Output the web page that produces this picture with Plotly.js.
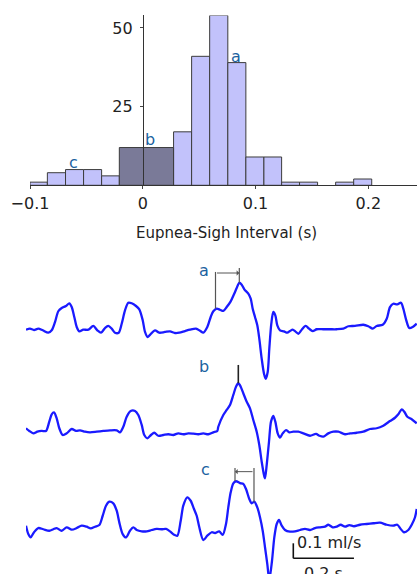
<!DOCTYPE html>
<html>
<head>
<meta charset="utf-8">
<script src="https://cdn.plot.ly/plotly-3.0.1.min.js"></script>
<style>html,body{margin:0;padding:0;background:#fff;}#chart{width:417px;height:574px;}</style>
</head>
<body>
<div id="chart"></div>
<script>
// ---------- DATA ----------
// Histogram of eupnea-sigh interval (s)
const binEdges = [-0.1, -0.0846, -0.0685, -0.0525, -0.0365, -0.0208, 0.0273, 0.0433, 0.0593, 0.0754, 0.0914, 0.1074, 0.1231, 0.139, 0.155, 0.171, 0.187, 0.203];
const binCounts = [1, 4, 5, 5, 3, 12, 17, 41, 54, 39, 9, 9, 1, 1, 0, 1, 2];
const syncBinIndex = 5;               // the dark (synchronous) bin
const histTickVals = [-0.1, 0, 0.1, 0.2];
const histYTicks = [25, 50];
const histLabels = ['a', 'b', 'c'];
const histLabelX = [0.0824, 0.0064, -0.061];
const histLabelY = [40.9, 14.4, 7.1];

// Airflow traces: time (s) and flow (ml/s)
const tA = [0,0.0132,0.0264,0.0406,0.0551,0.0735,0.0847,0.0956,0.1065,0.1177,0.1319,0.1428,0.1507,0.1592,0.1672,0.1757,0.1889,0.2054,0.2219,0.2351,0.2473,0.2605,0.2713,0.2826,0.2934,0.3056,0.3155,0.3264,0.3373,0.3485,0.3627,0.3736,0.3848,0.3924,0.4012,0.4121,0.4253,0.4395,0.4583,0.4748,0.4913,0.5054,0.5242,0.5407,0.5605,0.5737,0.5846,0.5978,0.6090,0.6176,0.6288,0.6396,0.6505,0.6617,0.6749,0.6858,0.6947,0.7033,0.7112,0.7198,0.7329,0.7409,0.7474,0.7550,0.7626,0.7692,0.7771,0.7847,0.7903,0.7969,0.8022,0.8088,0.8154,0.8220,0.8286,0.8375,0.8506,0.8615,0.8704,0.8793,0.8879,0.8978,0.9090,0.9222,0.9331,0.9453,0.9585,0.9802,1.0023,1.0244,1.0462,1.0627,1.0847,1.1121,1.1286,1.1431,1.1563,1.1761,1.1893,1.2001,1.2110,1.2242,1.2364,1.2440,1.2529,1.2638,1.2750,1.2882];
const flowA = [0.002,0.009,0,0.009,-0.002,-0.018,-0.002,0.053,0.125,0.147,0.160,0.178,0.153,0.087,0.020,-0.009,0.002,0.002,0.027,-0.002,-0.018,0.013,0.027,0.009,-0.018,-0.018,0.042,0.131,0.182,0.178,0.160,0.138,0.065,-0.013,-0.047,-0.025,-0.002,-0.018,-0.013,-0.009,-0.020,-0.018,-0.007,0.002,0.009,-0.005,-0.018,0.020,0.087,0.125,0.142,0.135,0.127,0.153,0.191,0.238,0.280,0.315,0.302,0.271,0.242,0.209,0.142,0.087,0.031,-0.058,-0.191,-0.291,-0.325,-0.280,-0.125,0.042,0.120,0.098,0.031,-0.002,-0.009,-0.018,-0.007,0.002,-0.009,-0.025,0.002,0.027,0.009,-0.007,0.005,0.005,0.005,0.005,0.009,0.025,0.027,0.035,0.025,0.009,0.027,0.035,0.075,0.153,0.175,0.171,0.182,0.142,0.071,0.013,0.020,0.042];

const tB = [0,0.0109,0.0241,0.0373,0.0518,0.0659,0.0768,0.0847,0.0923,0.1012,0.1098,0.1210,0.1342,0.1507,0.1649,0.1780,0.1945,0.2110,0.2331,0.2549,0.2770,0.2993,0.3099,0.3208,0.3320,0.3452,0.3594,0.3703,0.3815,0.3900,0.3999,0.4121,0.4230,0.4362,0.4527,0.4692,0.4857,0.5021,0.5186,0.5351,0.5516,0.5681,0.5846,0.6011,0.6176,0.6307,0.6340,0.6505,0.6617,0.6726,0.6835,0.6924,0.7000,0.7079,0.7165,0.7277,0.7385,0.7494,0.7606,0.7692,0.7771,0.7847,0.7880,0.7936,0.8012,0.8078,0.8154,0.8220,0.8299,0.8375,0.8464,0.8572,0.8681,0.8813,0.8978,0.9143,0.9364,0.9562,0.9673,0.9802,0.9967,1.0132,1.0297,1.0518,1.0683,1.0903,1.1121,1.1342,1.1563,1.1780,1.2001,1.2166,1.2275,1.2387,1.2473,1.2572,1.2717,1.2882];
const flowB = [0.025,0.007,-0.009,0.002,0.007,0.007,0.069,0.118,0.131,0.091,0.025,-0.020,-0.009,0.020,0.007,0.011,0.002,-0.002,0.002,0.007,0.011,0.011,-0.002,0.035,0.102,0.140,0.140,0.113,0.047,-0.020,-0.042,-0.020,-0.005,-0.025,-0.020,-0.015,-0.020,-0.009,-0.015,-0.009,-0.011,-0.015,-0.009,-0.015,-0.002,0.007,0.035,0.113,0.147,0.180,0.247,0.302,0.325,0.302,0.258,0.202,0.158,0.080,0.002,-0.087,-0.198,-0.287,-0.309,-0.220,-0.065,0.069,0.107,0.069,-0.009,-0.038,-0.009,0.013,-0.002,0.002,0.002,-0.009,-0.025,-0.013,-0.025,-0.031,-0.009,0.002,0.002,-0.015,-0.009,-0.005,0.002,0.020,0.025,0.042,0.073,0.095,0.118,0.151,0.135,0.102,0.085,0.058];

const tC = [0,0.0076,0.0155,0.0264,0.0406,0.0570,0.0768,0.0900,0.1012,0.1177,0.1342,0.1507,0.1672,0.1836,0.2001,0.2133,0.2275,0.2417,0.2529,0.2638,0.2746,0.2878,0.2990,0.3076,0.3188,0.3297,0.3429,0.3538,0.3650,0.3815,0.3980,0.4144,0.4309,0.4474,0.4616,0.4748,0.4880,0.4989,0.5101,0.5186,0.5318,0.5430,0.5539,0.5628,0.5714,0.5846,0.5978,0.6123,0.6231,0.6373,0.6485,0.6594,0.6670,0.6749,0.6835,0.6924,0.7056,0.7165,0.7254,0.7362,0.7441,0.7527,0.7626,0.7715,0.7804,0.7880,0.7956,0.8022,0.8111,0.8187,0.8266,0.8342,0.8431,0.8539,0.8704,0.8869,0.9034,0.9199,0.9364,0.9529,0.9694,0.9858,0.9967,1.0112,1.0244,1.0376,1.0518,1.0660,1.0814,1.1012,1.1233,1.1451,1.1672,1.1893,1.2110,1.2242,1.2354,1.2463,1.2605,1.2717,1.2826,1.2882];
const flowC = [0.029,-0.027,-0.049,-0.015,0.013,0.005,-0.005,0.005,0.013,-0.005,0.018,0.002,0.013,0.029,0.022,0.011,0.022,0.033,0.095,0.162,0.189,0.178,0.129,0.051,-0.027,-0.049,-0.005,0.018,0,-0.009,-0.009,0,0.007,0.005,0.007,-0.009,-0.031,-0.038,0.062,0.162,0.218,0.195,0.140,0.095,0.018,-0.067,-0.038,-0.015,-0.020,-0.009,-0.033,0.040,0.151,0.251,0.311,0.325,0.313,0.307,0.273,0.207,0.178,0.189,0.151,0.085,-0.005,-0.115,-0.227,-0.333,-0.205,-0.049,0.040,0.067,0.029,0,-0.011,-0.009,0,0.007,0,0.013,0.018,0.022,0.035,0.018,0.022,0.035,0.022,0.033,0.025,0.035,0.040,0.045,0.049,0.035,0.029,0.035,0.007,-0.015,0,0.035,0.085,0.140];

// Interval markers (s, ml/s)
const markA = {t0: 0.6248, t1: 0.7033};
const markB = {t: 0.7000};
const markC = {t0: 0.7517, t1: 0.6891};
const scaleBar = {time: 0.2, flow: 0.1, tLabel: '0.2 s', fLabel: '0.1 ml/s'};

// ---------- LAYOUT HELPERS ----------
const W = 417, H = 574;
const px = v => v / W;
const py = v => 1 - v / H;
const FONT = 'DejaVu Sans';
const LBL = '#1b62a0';
const TRACE = '#1a1aff';
const GREY = '#555';

// histogram geometry
const hxPerUnit = 1127.8, hLeft = 30, hZeroPx = 142.8, hBase = 185.3, hyPerUnit = 3.146, hTop = 54;
// traces geometry
const tLeft = 26, tPerSec = 303.3, fPerUnit = 150;
function yAx(topPx, botPx, basePx) {
  return {domain: [py(botPx), py(topPx)], range: [(basePx - botPx) / fPerUnit, (basePx - topPx) / fPerUnit],
          visible: false, anchor: 'x2', fixedrange: true};
}

const centers = [], widths = [], lightX = [], lightW = [], lightY = [];
for (let i = 0; i < binCounts.length; i++) {
  const c = (binEdges[i] + binEdges[i + 1]) / 2, w = binEdges[i + 1] - binEdges[i];
  if (i === syncBinIndex) { centers.push(c); widths.push(w); }
  else if (binCounts[i] > 0) { lightX.push(c); lightW.push(w); lightY.push(binCounts[i]); }
}

const data = [
  {type: 'bar', x: lightX, y: lightY, width: lightW, xaxis: 'x', yaxis: 'y',
   marker: {color: '#c2c2fb', line: {color: '#3c3c3c', width: 1}}, hoverinfo: 'skip'},
  {type: 'bar', x: centers, y: [binCounts[syncBinIndex]], width: widths, xaxis: 'x', yaxis: 'y',
   marker: {color: '#7a7a98', line: {color: '#3c3c3c', width: 1}}, hoverinfo: 'skip'},
  {type: 'scatter', mode: 'lines', x: tA, y: flowA, xaxis: 'x2', yaxis: 'y2', line: {color: TRACE, width: 2.3, shape: 'spline', smoothing: 0.8}},
  {type: 'scatter', mode: 'lines', x: tB, y: flowB, xaxis: 'x2', yaxis: 'y3', line: {color: TRACE, width: 2.3, shape: 'spline', smoothing: 0.8}},
  {type: 'scatter', mode: 'lines', x: tC, y: flowC, xaxis: 'x2', yaxis: 'y4', line: {color: TRACE, width: 2.3, shape: 'spline', smoothing: 0.8}}
];

const annotations = [];
histLabels.forEach((s, i) => annotations.push({text: s, x: histLabelX[i], y: histLabelY[i], xref: 'x', yref: 'y',
  showarrow: false, font: {family: FONT, size: 16, color: LBL}, yanchor: 'middle'}));
annotations.push({text: 'Eupnea-Sigh Interval (s)', xref: 'paper', yref: 'paper', x: px(226.7), y: py(233),
  showarrow: false, font: {family: FONT, size: 15, color: '#222'}, xanchor: 'center', yanchor: 'middle'});

// trace labels
const tt = p => (p - tLeft) / tPerSec;
annotations.push({text: 'a', x: tt(204), y: 0.40, xref: 'x2', yref: 'y2', showarrow: false, font: {family: FONT, size: 16, color: LBL}});
annotations.push({text: 'b', x: tt(204), y: 0.435, xref: 'x2', yref: 'y3', showarrow: false, font: {family: FONT, size: 16, color: LBL}});
annotations.push({text: 'c', x: tt(205), y: 0.402, xref: 'x2', yref: 'y4', showarrow: false, font: {family: FONT, size: 16, color: LBL}});
// interval arrows
annotations.push({text: '', x: markA.t1, y: 0.38, ax: markA.t0, ay: 0.38, xref: 'x2', yref: 'y2', axref: 'x2', ayref: 'y2',
  showarrow: true, arrowhead: 1, arrowsize: 0.9, arrowwidth: 1, arrowcolor: GREY, standoff: 0, startstandoff: 0});
annotations.push({text: '', x: markC.t1, y: 0.389, ax: markC.t0, ay: 0.389, xref: 'x2', yref: 'y4', axref: 'x2', ayref: 'y4',
  showarrow: true, arrowhead: 1, arrowsize: 0.9, arrowwidth: 1, arrowcolor: GREY, standoff: 0, startstandoff: 0});
// scale bar labels
const sbT0 = tt(293.3), sbV0 = -0.1887;
annotations.push({text: scaleBar.fLabel, x: sbT0 + 0.005, y: sbV0 + scaleBar.flow + 0.005, xref: 'x2', yref: 'y4', showarrow: false,
  xanchor: 'left', yanchor: 'middle', font: {family: FONT, size: 16, color: '#222'}});
annotations.push({text: scaleBar.tLabel, x: sbT0 + scaleBar.time / 2, y: -0.21, xref: 'x2', yref: 'y4', showarrow: false,
  xanchor: 'center', yanchor: 'top', font: {family: FONT, size: 16, color: '#222'}});

const ln = (x0, y0, x1, y1, yref, color, width) => ({type: 'line', xref: 'x2', yref: yref, x0, y0, x1, y1, line: {color, width}});
const shapes = [
  ln(markA.t0, 0.387, markA.t0, 0.142, 'y2', GREY, 1.2),
  ln(markA.t1, 0.413, markA.t1, 0.315, 'y2', GREY, 1.2),
  ln(markB.t, 0.447, markB.t, 0.325, 'y3', '#222', 1.6),
  ln(markC.t1, 0.413, markC.t1, 0.327, 'y4', GREY, 1.2),
  ln(markC.t0, 0.413, markC.t0, 0.185, 'y4', GREY, 1.2),
  ln(sbT0, sbV0 + scaleBar.flow, sbT0, sbV0, 'y4', '#111', 1.6),
  ln(sbT0, sbV0, sbT0 + scaleBar.time, sbV0, 'y4', '#111', 1.6)
];

const layout = {
  width: W, height: H, autosize: false, showlegend: false,
  margin: {l: 0, r: 0, t: 0, b: 0, pad: 0},
  paper_bgcolor: '#fff', plot_bgcolor: 'rgba(0,0,0,0)',
  font: {family: FONT, size: 16, color: '#222'},
  barmode: 'overlay',
  xaxis: {domain: [px(hLeft), 1], range: [-0.1, -0.1 + (W - hLeft) / hxPerUnit], anchor: 'y',
          tickvals: histTickVals, ticks: 'outside', ticklen: 3, tickcolor: '#444', tickwidth: 1,
          showline: true, linecolor: '#333', linewidth: 1, showgrid: false, zeroline: false,
          tickfont: {family: FONT, size: 16, color: '#222'}, ticklabelstandoff: 0, fixedrange: true},
  yaxis: {domain: [py(hBase), py(hBase - hTop * hyPerUnit)], range: [0, hTop], anchor: 'free', position: px(hZeroPx),
          tickvals: histYTicks, ticks: 'outside', ticklen: 3, tickcolor: '#444', tickwidth: 1,
          showline: true, linecolor: '#333', linewidth: 1, showgrid: false, zeroline: false,
          tickfont: {family: FONT, size: 16, color: '#222'}, ticklabelstandoff: 4, fixedrange: true},
  xaxis2: {domain: [px(tLeft), 1], range: [0, (W - tLeft) / tPerSec], visible: false, anchor: 'y2', fixedrange: true},
  yaxis2: yAx(262, 388, 330),
  yaxis3: yAx(358, 482, 432),
  yaxis4: yAx(460, 574, 530),
  annotations, shapes
};

Plotly.newPlot('chart', data, layout, {staticPlot: true, displayModeBar: false});
</script>
</body>
</html>
